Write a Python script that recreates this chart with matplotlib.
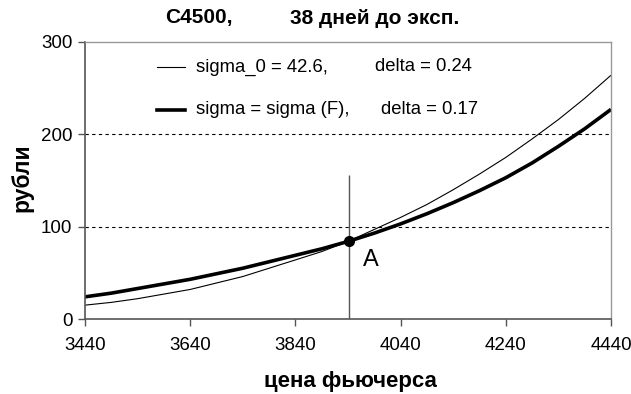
import matplotlib
matplotlib.use("Agg")
import matplotlib.pyplot as plt

# ---- data ----
futures_price = [3440, 3490, 3540, 3590, 3640, 3690, 3740, 3790, 3840, 3890, 3940,
                 3990, 4040, 4090, 4140, 4190, 4240, 4290, 4340, 4390, 4440]
price_sigma0 = [15, 18, 22, 27, 32, 39, 46, 55, 64, 73, 84,
                97, 110, 124, 140, 157, 175, 195, 216, 239, 264]
price_sigmaF = [24, 28, 33, 38, 43, 49, 55, 62, 69, 76, 84,
                93, 103, 114, 126, 139, 153, 169, 187, 206, 227]
x_ticks = [3440, 3640, 3840, 4040, 4240, 4440]
y_ticks = [0, 100, 200, 300]
grid_levels = [100, 200]
point_A = (3942, 84)
vline_top = 156
label_sigma0 = "sigma_0 = 42.6,"
label_sigmaF = "sigma = sigma (F),"
delta_sigma0 = "delta = 0.24"
delta_sigmaF = "delta = 0.17"

fam = ['Liberation Sans', 'DejaVu Sans']
plt.rcParams['font.family'] = fam

W, H = 631, 394
fig = plt.figure(figsize=(W / 100, H / 100), dpi=100)
L, R, T, B = 85, 611, 42, 319
ax = fig.add_axes([L / W, 1 - B / H, (R - L) / W, (B - T) / H])

ax.plot(futures_price, price_sigma0, color='black', lw=0.8, solid_capstyle='butt')
ax.plot(futures_price, price_sigmaF, color='black', lw=2.6, solid_capstyle='butt')

for g in grid_levels:
    ax.axhline(g, color='black', lw=0.8, ls=(0, (3, 3)), zorder=0)

ax.vlines(point_A[0], 0, vline_top, color='#555555', lw=1.0, zorder=1)
ax.plot([point_A[0]], [point_A[1]], 'o', color='black', ms=7, zorder=5)
ax.text(3984, 64, "A", fontsize=17, ha='center', va='center')

ax.set_xlim(3440, 4440)
ax.set_ylim(0, 300)
ax.set_xticks(x_ticks)
ax.set_yticks(y_ticks)
ax.tick_params(axis='both', direction='out', length=5, width=1, color='#555555',
               labelsize=13.5, pad=4)
ax.tick_params(axis='x', pad=8)

for s in ['left', 'bottom']:
    ax.spines[s].set_color('#555555')
    ax.spines[s].set_linewidth(1.2)
for s in ['top', 'right']:
    ax.spines[s].set_color('#999999')
    ax.spines[s].set_linewidth(1.0)

# legend drawn inside the axes
ax.plot([0.137, 0.19], [0.91, 0.91], transform=ax.transAxes, color='black', lw=0.8)
ax.plot([0.137, 0.19], [0.755, 0.755], transform=ax.transAxes, color='black', lw=2.6)
ax.text(0.211, 0.91, label_sigma0, transform=ax.transAxes, fontsize=13.3, va='center')
ax.text(0.551, 0.91, delta_sigma0, transform=ax.transAxes, fontsize=13.3, va='center')
ax.text(0.211, 0.755, label_sigmaF, transform=ax.transAxes, fontsize=13.3, va='center')
ax.text(0.563, 0.755, delta_sigmaF, transform=ax.transAxes, fontsize=13.3, va='center')

fig.text(165 / W, 1 - 18 / H, "C4500,", fontsize=15, fontweight='bold', va='center', ha='left')
fig.text(290 / W, 1 - 18 / H, "38 дней до эксп.", fontsize=15, fontweight='bold', va='center', ha='left')
fig.text(22 / W, 1 - 178 / H, "рубли", fontsize=16.5, fontweight='bold', rotation=90,
         va='center', ha='center')
fig.text(350 / W, 1 - 381 / H, "цена фьючерса", fontsize=16, fontweight='bold',
         va='center', ha='center')

fig.savefig("out.png", dpi=100)
